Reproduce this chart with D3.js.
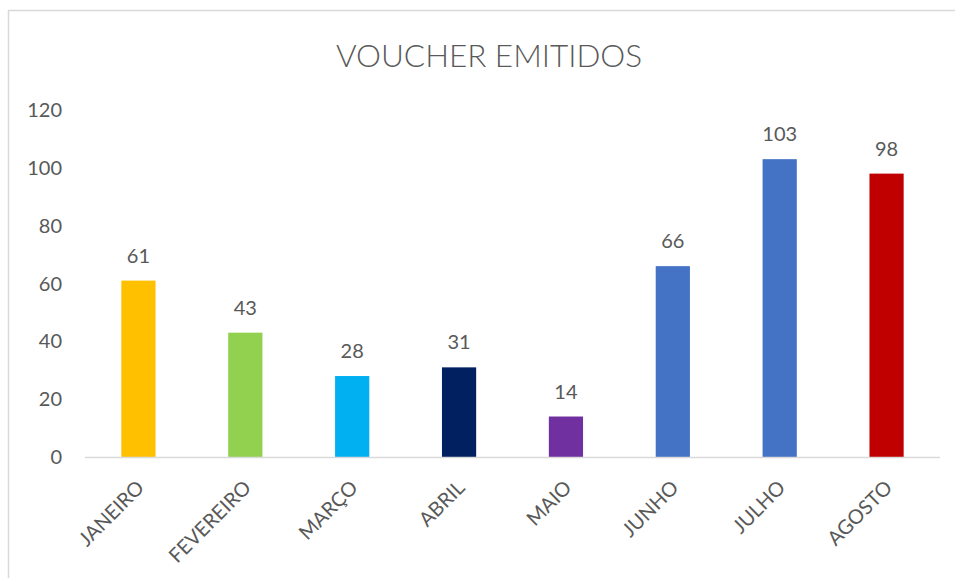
<!DOCTYPE html>
<html><head><meta charset="utf-8">
<script src="https://cdn.jsdelivr.net/npm/d3@7"></script>
<style>body{margin:0;background:#fff}svg{display:block}</style>
</head><body>
<svg id="c" width="955" height="578"></svg>
<script>
const categories = ["JANEIRO","FEVEREIRO","MARÇO","ABRIL","MAIO","JUNHO","JULHO","AGOSTO"];
const values = [61,43,28,31,14,66,103,98];
const colors = ["#FFC000","#92D050","#00B0F0","#002060","#7030A0","#4472C4","#4472C4","#C00000"];
const yTicks = [0,20,40,60,80,100,120];
const title = "VOUCHER EMITIDOS";

const svg = d3.select("#c");
const font = "Lato, 'Open Sans', sans-serif";
const txt = "#595959";

svg.append("rect").attr("x",8.5).attr("y",10.5).attr("width",1000).attr("height",1000)
  .attr("fill","#fff").attr("stroke","#d9d9d9").attr("stroke-width",1.5);

const x = d3.scaleBand().domain(categories).range([85,940]).paddingInner(0.68).paddingOuter(0.34);
const y = d3.scaleLinear().domain([0,120]).range([457,110]);

svg.append("text").attr("x",489).attr("y",67).attr("text-anchor","middle")
  .attr("font-family",font).attr("font-size",31.5).attr("font-weight",300).attr("fill",txt).text(title);

// y tick labels
svg.append("g").selectAll("text").data(yTicks).join("text")
  .attr("x",62).attr("y",d=>y(d)).attr("dy","0.35em").attr("text-anchor","end")
  .attr("font-family",font).attr("font-size",20).attr("fill",txt).text(d=>d);

// bars
svg.append("g").selectAll("rect").data(values).join("rect")
  .attr("x",(d,i)=>x(categories[i])).attr("width",x.bandwidth())
  .attr("y",d=>y(d)).attr("height",d=>y(0)-y(d)).attr("fill",(d,i)=>colors[i]);

// axis line
svg.append("line").attr("x1",85).attr("x2",940).attr("y1",y(0)+0.5).attr("y2",y(0)+0.5)
  .attr("stroke","#d9d9d9").attr("stroke-width",1.5);

// value labels
svg.append("g").selectAll("text").data(values).join("text")
  .attr("x",(d,i)=>x(categories[i])+x.bandwidth()/2).attr("y",d=>y(d)-18)
  .attr("text-anchor","middle").attr("font-family",font).attr("font-size",20).attr("fill",txt).text(d=>d);

// category labels
svg.append("g").selectAll("text").data(categories).join("text")
  .attr("transform",d=>`translate(${x(d)+x.bandwidth()/2+7},${y(0)+32}) rotate(-45)`)
  .attr("text-anchor","end").attr("font-family",font).attr("font-size",20).attr("fill",txt).text(d=>d);
</script>
</body></html>
